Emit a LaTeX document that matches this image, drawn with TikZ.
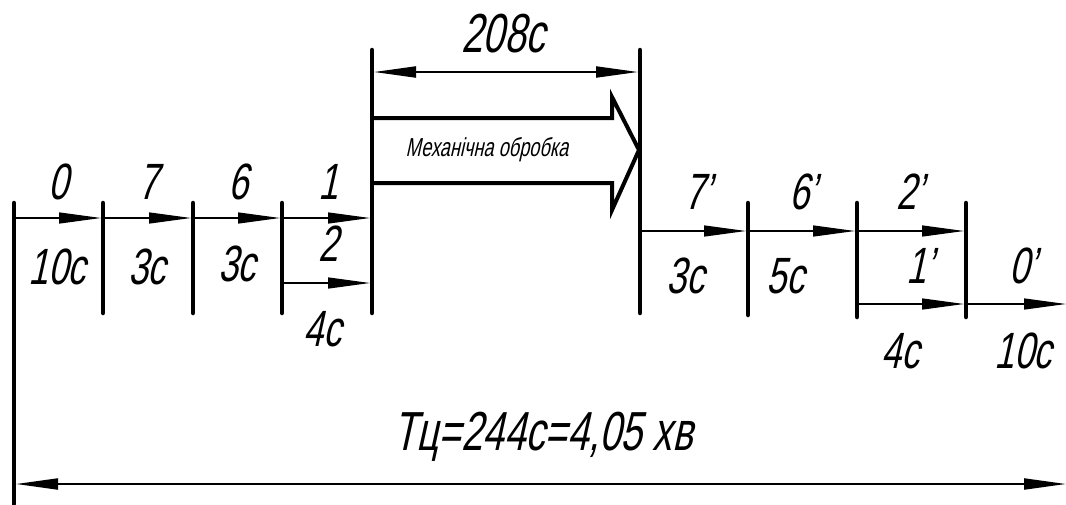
\documentclass[tikz,border=0pt]{standalone}
\usepackage{fontspec}
\setmainfont{Liberation Sans}[FakeSlant=0.22,FakeStretch=0.7]
\usetikzlibrary{arrows.meta}
\tikzset{
  tipA/.tip={Triangle[length=42pt,width=11pt]},
  thickbar/.style={line width=4.5pt, line cap=round},
  flowarrow/.style={line width=1.3pt, -tipA},
  dimarrow/.style={line width=2pt, tipA-tipA},
  bigarrow/.style={line width=4pt, line join=miter},
  lbl/.style={inner sep=0pt, font=\fontsize{51}{53}\selectfont},
  biglbl/.style={inner sep=0pt, font=\fontsize{55}{57}\selectfont},
  smalllbl/.style={inner sep=0pt, font=\fontsize{26}{28}\selectfont}
}
\begin{document}
\begin{tikzpicture}[x=1pt,y=-1pt]
\useasboundingbox (0,0) rectangle (1066,504);
% vertical bars
\coordinate (L0t) at (14,203); \coordinate (L0b) at (14,504);
\coordinate (L1t) at (103,203); \coordinate (L1b) at (103,313);
\coordinate (L2t) at (193,203); \coordinate (L2b) at (193,313);
\coordinate (L3t) at (282,203); \coordinate (L3b) at (282,313);
\coordinate (L4t) at (372,50); \coordinate (L4b) at (372,313);
\coordinate (R0t) at (640,50); \coordinate (R0b) at (640,313);
\coordinate (R1t) at (748,203); \coordinate (R1b) at (748,315);
\coordinate (R2t) at (857,203); \coordinate (R2b) at (857,317);
\coordinate (R3t) at (966,203); \coordinate (R3b) at (966,317);
\foreach \a in {L0,L1,L2,L3,L4,R0,R1,R2,R3}
  \draw[thickbar] (\a t) -- (\a b);
% flow arrows left
\coordinate (a0) at (14,218); \coordinate (a1) at (101,218);
\coordinate (a2) at (191,218); \coordinate (a3) at (280,218);
\coordinate (a4) at (370,218);
\coordinate (b3) at (282,283); \coordinate (b4) at (370,283);
\draw[flowarrow] (a0) -- (a1);
\draw[flowarrow] (a1) -- (a2);
\draw[flowarrow] (a2) -- (a3);
\draw[flowarrow] (a3) -- (a4);
\draw[flowarrow] (b3) -- (b4);
% flow arrows right
\coordinate (c0) at (640,231); \coordinate (c1) at (746,231);
\coordinate (c2) at (855,231); \coordinate (c3) at (964,231);
\coordinate (d2) at (857,304); \coordinate (d3) at (964,304);
\coordinate (d4) at (1066,304);
\draw[flowarrow] (c0) -- (c1);
\draw[flowarrow] (c1) -- (c2);
\draw[flowarrow] (c2) -- (c3);
\draw[flowarrow] (d2) -- (d3);
\draw[flowarrow] (d3) -- (d4);
% dimension 208
\coordinate (m0) at (374,72); \coordinate (m1) at (638,72);
\draw[dimarrow] (m0) -- (m1);
% big arrow
\draw[bigarrow] (372,118) -- (612,118) -- (612,97) -- (639,150) -- (612,210) -- (612,183) -- (372,183);
% bottom dimension
\coordinate (t0) at (16,484); \coordinate (t1) at (1066,484);
\draw[dimarrow] (t0) -- (t1);
% labels
\node[lbl] (n0) at (58,182) {0};
\node[lbl] (n7) at (148,182) {7};
\node[lbl] (n6) at (238,182) {6};
\node[lbl] (n1) at (328,182) {1};
\node[lbl] (s1) at (57,267) {10с};
\node[lbl] (s2) at (147,267) {3с};
\node[lbl] (s3) at (237,264) {3с};
\node[lbl] (n2) at (328,244) {2};
\node[lbl] (s4) at (322,329) {4с};
\node[biglbl] (s208) at (503,34) {208с};
\node[smalllbl] (mech) at (487,150) {Механічна обробка};
\node[lbl] (p7) at (698,192) {7'};
\node[lbl] (p6) at (803,192) {6'};
\node[lbl] (p2) at (910,192) {2'};
\node[lbl] (q1) at (685,276) {3с};
\node[lbl] (q2) at (785,276) {5с};
\node[lbl] (p1) at (920,266) {1'};
\node[lbl] (p0) at (1023,266) {0'};
\node[lbl] (q3) at (900,351) {4с};
\node[lbl] (q4) at (1023,351) {10с};
\node[biglbl] (tc) at (543,437) {Тц=244с=4,05 хв};
\end{tikzpicture}
\end{document}
